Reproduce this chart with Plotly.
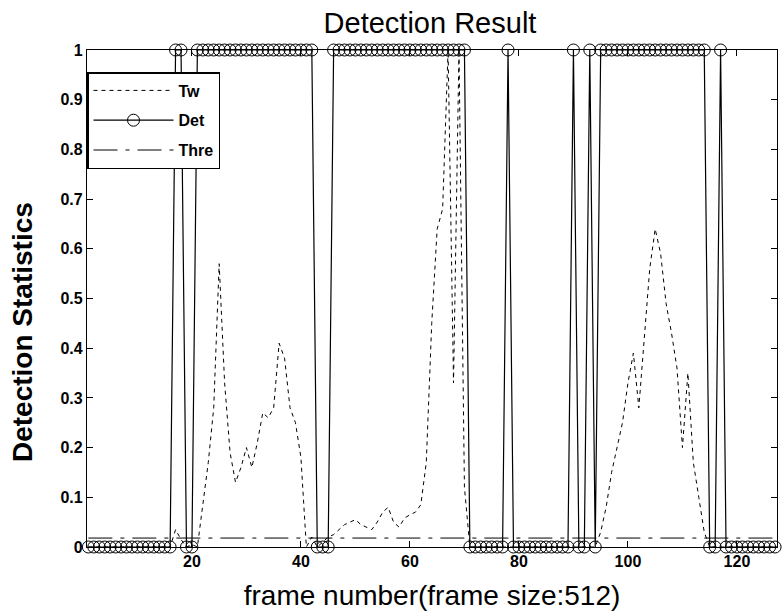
import plotly.graph_objects as go

frames = list(range(1, 129))

tw = [
    0.0, 0.0, 0.0, 0.0, 0.0, 0.0, 0.0, 0.0, 0.0, 0.0,
    0.0, 0.0, 0.0, 0.0, 0.0, 0.0, 0.035, 0.015, 0.0, 0.005,
    0.0, 0.08, 0.17, 0.28, 0.57, 0.33, 0.19, 0.13, 0.16, 0.2,
    0.16, 0.21, 0.27, 0.26, 0.28, 0.41, 0.38, 0.28, 0.25, 0.18,
    0.0, 0.02, 0.0, 0.01, 0.02, 0.025, 0.035, 0.045, 0.05, 0.055,
    0.045, 0.04, 0.035, 0.05, 0.07, 0.08, 0.05, 0.04, 0.058, 0.065,
    0.07, 0.085, 0.17, 0.45, 0.64, 0.68, 1.0, 0.33, 1.0, 0.12,
    0.0, 0.0, 0.0, 0.0, 0.0, 0.0, 0.0, 0.0, 0.0, 0.0,
    0.0, 0.0, 0.0, 0.0, 0.0, 0.0, 0.0, 0.0, 0.0, 0.0,
    0.0, 0.0, 0.0, 0.0, 0.03, 0.08, 0.15, 0.2, 0.25, 0.33,
    0.39, 0.28, 0.42, 0.56, 0.64, 0.59, 0.49, 0.43, 0.36, 0.2,
    0.35, 0.17, 0.1, 0.03, 0.0, 0.0, 0.0, 0.0, 0.0, 0.0,
    0.0, 0.0, 0.0, 0.0, 0.0, 0.0, 0.0, 0.0,
]

det = [
    0, 0, 0, 0, 0, 0, 0, 0, 0, 0,
    0, 0, 0, 0, 0, 0, 1, 1, 0, 0,
    1, 1, 1, 1, 1, 1, 1, 1, 1, 1,
    1, 1, 1, 1, 1, 1, 1, 1, 1, 1,
    1, 1, 0, 0, 0, 1, 1, 1, 1, 1,
    1, 1, 1, 1, 1, 1, 1, 1, 1, 1,
    1, 1, 1, 1, 1, 1, 1, 1, 1, 1,
    0, 0, 0, 0, 0, 0, 0, 1, 0, 0,
    0, 0, 0, 0, 0, 0, 0, 0, 0, 1,
    0, 0, 1, 0, 1, 1, 1, 1, 1, 1,
    1, 1, 1, 1, 1, 1, 1, 1, 1, 1,
    1, 1, 1, 1, 0, 0, 1, 0, 0, 0,
    0, 0, 0, 0, 0, 0, 0, 0,
]

thre = [0.018] * 128

x_ticks = [20, 40, 60, 80, 100, 120]
y_ticks = [0, 0.1, 0.2, 0.3, 0.4, 0.5, 0.6, 0.7, 0.8, 0.9, 1]
y_tick_text = ["0", "0.1", "0.2", "0.3", "0.4", "0.5", "0.6", "0.7", "0.8", "0.9", "1"]

FONT = "Liberation Sans, Arial, sans-serif"

fig = go.Figure()
fig.add_trace(go.Scatter(
    x=frames, y=tw, name="Tw", mode="lines",
    line=dict(color="black", width=1, dash="4px,4px"),
    legendgroup="a",
))
fig.add_trace(go.Scatter(
    x=frames, y=det, name="Det", mode="lines+markers",
    line=dict(color="black", width=1.2),
    marker=dict(symbol="circle-open", size=12, color="black", line=dict(width=1)),
    cliponaxis=False, legendgroup="b",
))
fig.add_trace(go.Scatter(
    x=frames, y=thre, name="Thre", mode="lines",
    line=dict(color="black", width=1, dash="24px,8px,4px,8px"),
    legendgroup="c",
))

axis_common = dict(
    showline=True, linecolor="black", linewidth=1.2, mirror="ticks",
    ticks="inside", ticklen=6, tickcolor="black", tickwidth=1,
    showgrid=False, zeroline=False,
    tickfont=dict(family=FONT, size=16, color="black", weight="bold"),
)

fig.update_layout(
    width=783, height=614,
    margin=dict(l=87, r=6, t=50, b=67),
    paper_bgcolor="white", plot_bgcolor="white",
    font=dict(family=FONT, color="black"),
    title=dict(text="Detection Result", x=430 / 783, xanchor="center",
               y=1 - 23 / 614, yanchor="middle",
               font=dict(family=FONT, size=29, color="black")),
    showlegend=True,
    legend=dict(
        x=0, y=1 - 22 / 497, xanchor="left", yanchor="top",
        bgcolor="white", bordercolor="black", borderwidth=1.5,
        font=dict(family=FONT, size=16, color="black", weight="bold"),
        tracegroupgap=6, itemwidth=80,
    ),
    annotations=[dict(
        text="Detection Statistics", textangle=-90,
        xref="paper", yref="paper", x=-64 / 690, y=(547 - 332) / 497,
        xanchor="center", yanchor="middle", showarrow=False,
        font=dict(family=FONT, size=28, color="black", weight="bold"),
    )],
)
fig.update_xaxes(
    range=[0.75, 127.35], tickvals=x_ticks,
    title=dict(text="frame number(frame size:512)", standoff=16,
               font=dict(family=FONT, size=28, color="black")),
    **axis_common,
)
fig.update_yaxes(
    range=[0, 1], tickvals=y_ticks, ticktext=y_tick_text,
    **axis_common,
)

fig.write_html("out.html")
